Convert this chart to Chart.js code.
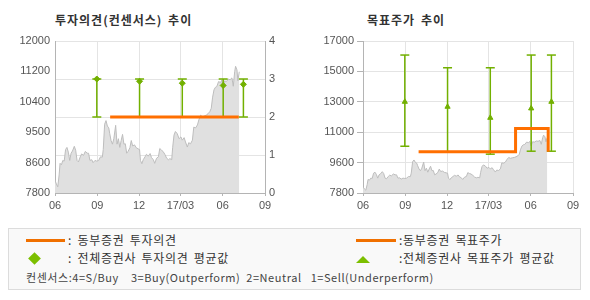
<!DOCTYPE html>
<html>
<head>
<meta charset="utf-8">
<script src="https://cdn.jsdelivr.net/npm/chart.js@4.4.1/dist/chart.umd.min.js"></script>
<style>
  body { margin: 0; background: #fff; width: 590px; height: 300px; position: relative; overflow: hidden;
         font-family: 'Noto Sans CJK KR', sans-serif; }
  canvas { position: absolute; top: 0; }
  .title { position: absolute; top: 11px; font-size: 12px; font-weight: bold; color: #333;
           line-height: 18px; white-space: nowrap; letter-spacing: 1px; word-spacing: 2px; }
  #legend { position: absolute; left: 8px; top: 228px; width: 571px; height: 60px;
            border: 1px solid #dcdcdc; background: #f9f9f9; }
  .lg { position: absolute; font-size: 12px; color: #333; white-space: pre; line-height: 16px;
        letter-spacing: 0.7px; word-spacing: 2px; }
  .small { font-size: 11px; letter-spacing: 0.55px; word-spacing: 0; color: #444; }
  .ln { position: absolute; height: 3px; background: #f07000; }
  .dia { position: absolute; width: 9px; height: 9px; background: #7cbf00; transform: rotate(45deg); }
  .tri { position: absolute; width: 0; height: 0; border-left: 7px solid transparent;
         border-right: 7px solid transparent; border-bottom: 7px solid #7cbf00; }
</style>
</head>
<body>
<div class="title" style="left:55px">투자의견(컨센서스) 추이</div>
<div class="title" style="left:367px">목표주가 추이</div>
<canvas id="opinionChart" width="295" height="215" style="left:0"></canvas>
<canvas id="targetChart" width="295" height="215" style="left:295px"></canvas>

<div id="legend">
  <div class="ln" style="left:17px;top:10px;width:39px"></div>
  <div class="lg" style="left:59px;top:3px">: 동부증권 투자의견</div>
  <div class="dia" style="left:21px;top:25px"></div>
  <div class="lg" style="left:59px;top:21px">: 전체증권사 투자의견 평균값</div>
  <div class="lg small" style="left:17px;top:40px">컨센서스:4=S/Buy    3=Buy(Outperform)  2=Neutral   1=Sell(Underperform)</div>
  <div class="ln" style="left:347px;top:10px;width:40px"></div>
  <div class="lg" style="left:390px;top:3px">:동부증권 목표주가</div>
  <div class="tri" style="left:347px;top:27px"></div>
  <div class="lg" style="left:390px;top:21px">:전체증권사 목표주가 평균값</div>
</div>

<script>
// Days counted from 2016-06-01
const monthTickDays = [0, 92, 183, 273, 365, 457];
const monthTickLabels = ['06', '09', '12', '17/03', '06', '09'];

// Share price (won)
const priceDays = [0,3,6,9,11,14,17,20,23,26,29,32,35,38,42,45,48,51,55,58,62,66,70,73,76,80,83,87,91,95,
  99,103,105,108,111,114,117,119,122,125,128,132,135,138,141,144,147,150,153,156,159,163,166,169,173,177,181,184,186,189,
  192,196,199,203,207,210,214,217,221,225,228,232,235,239,243,247,250,254,256,259,262,266,270,274,277,281,284,288,291,295,
  299,302,306,310,313,317,321,325,329,333,337,340,343,346,349,352,356,360,363,366,369,373,377,381,385,388,391,393,396,398,401];
const priceValues = [8150,8050,7970,8300,8620,8580,8700,8680,9000,9060,8930,8700,8900,8960,9090,8980,8700,8660,8800,8880,
  8840,8950,8900,8900,8700,8720,8640,8700,8680,8700,8800,8790,9000,9700,9800,9650,9600,9450,9250,9150,
  9300,9670,9150,9300,9060,9250,9420,9150,9160,8900,8950,9050,9250,9100,9130,9050,9020,9000,8700,8610,
  8720,8800,8870,8820,8890,8780,8720,8620,8760,8800,9030,8980,8950,8870,8760,8720,8750,8720,9050,9400,
  9500,9440,9300,9350,9260,9330,9210,9070,9190,9160,9260,9620,9600,9680,9820,9950,9900,9930,9950,9990,
  10050,10140,10450,10650,10720,10740,10880,10850,10920,10650,10900,10880,10950,10930,10980,10750,11150,11300,11200,10900,11150];

// Consensus survey dates
const consensusDays = [91, 184, 277, 366, 410];
// Opinion consensus (4=S/Buy ... 1=Sell)
const opinionMin = [2, 2, 2, 2, 2];
const opinionMax = [3, 3, 3, 3, 3];
const opinionAvg = [3.0, 2.94, 2.89, 2.83, 2.86];
// Target price consensus (won)
const targetMin = [10630, 10290, 10150, 10330, 10330];
const targetMax = [16150, 15380, 15380, 16150, 16150];
const targetAvg = [13320, 13020, 12350, 12920, 13320];

// Dongbu Securities' own opinion and target price
const dongbuOpinionDays = [120, 400];
const dongbuOpinion = [2, 2];
const dongbuTargetDays = [121, 332, 403, 403];
const dongbuTarget = [10300, 11700, 11700, 10300];

// Price axis labels
const priceAxisLabels1 = ['7800', '8600', '9500', '10400', '11200', '12000'];
const priceAxisLabels2 = ['7800', '9600', '11000', '13000', '15000', '17000'];

const ORANGE = '#ff6f00';
const GREEN = '#72b000';
const GRID = '#e4e4e4';
const AXIS = '#b4b4b4';
const TICK_FONT = { family: "'Liberation Sans', Arial, sans-serif", size: 11 };

const points = (xs, ys) => xs.map((x, i) => ({ x, y: ys[i] }));
const rangeBars = (xs, lo, hi) => {
  const out = [];
  xs.forEach((x, i) => { out.push({ x, y: lo[i] }, { x, y: hi[i] }, { x, y: null }); });
  return out;
};

function evenTicks(labels) {
  return scale => {
    const n = labels.length;
    scale.ticks = labels.map((_, i) => ({ value: scale.min + i * (scale.max - scale.min) / (n - 1) }));
  };
}

const xAxis = {
  type: 'linear', min: 0, max: 457,
  afterBuildTicks: s => { s.ticks = monthTickDays.map(v => ({ value: v })); },
  afterFit: s => { s.height = 22; },
  grid: { color: GRID, tickColor: AXIS, tickLength: 3 },
  border: { color: AXIS },
  ticks: { autoSkip: false, maxRotation: 0, padding: 3, color: '#555', font: TICK_FONT,
           callback: (v, i) => monthTickLabels[i] }
};

const priceDataset = {
  data: points(priceDays, priceValues), yAxisID: 'y',
  borderColor: '#bdbdbd', borderWidth: 1, backgroundColor: '#e0e0e0', fill: 'start',
  pointRadius: 0, tension: 0, order: 3
};

Chart.defaults.animation = false;
Chart.defaults.plugins.legend.display = false;
Chart.defaults.plugins.tooltip.enabled = false;

new Chart(document.getElementById('opinionChart'), {
  type: 'line',
  data: {
    datasets: [
      priceDataset,
      { data: rangeBars(consensusDays, opinionMin, opinionMax), yAxisID: 'y1',
        borderColor: GREEN, borderWidth: 1.5, pointStyle: 'line', pointRadius: 4.5,
        pointBorderColor: GREEN, pointBorderWidth: 1.5, spanGaps: false, order: 2 },
      { data: points(consensusDays, opinionAvg), yAxisID: 'y1', showLine: false,
        pointStyle: 'rectRot', pointRadius: 3, pointBackgroundColor: GREEN, pointBorderColor: GREEN, order: 1 },
      { data: points(dongbuOpinionDays, dongbuOpinion), yAxisID: 'y1',
        borderColor: ORANGE, borderWidth: 3, pointRadius: 0, order: 0 }
    ]
  },
  options: {
    responsive: false, devicePixelRatio: 1,
    layout: { padding: { top: 41, left: 0, right: 0, bottom: 0 } },
    scales: {
      x: xAxis,
      y: {
        position: 'left', min: 7800, max: 12000,
        afterBuildTicks: evenTicks(priceAxisLabels1),
        afterFit: s => { s.width = 55; },
        grid: { drawOnChartArea: false, drawTicks: false },
        border: { color: AXIS },
        ticks: { padding: 5, color: '#555', font: TICK_FONT, callback: (v, i) => priceAxisLabels1[i] }
      },
      y1: {
        position: 'right', min: 0, max: 4,
        afterFit: s => { s.width = 30; },
        grid: { color: GRID, drawTicks: false },
        border: { color: AXIS },
        ticks: { stepSize: 1, padding: 4, color: '#555', font: TICK_FONT }
      }
    }
  }
});

new Chart(document.getElementById('targetChart'), {
  type: 'line',
  data: {
    datasets: [
      priceDataset,
      { data: rangeBars(consensusDays, targetMin, targetMax), yAxisID: 'y',
        borderColor: GREEN, borderWidth: 1.5, pointStyle: 'line', pointRadius: 4.5,
        pointBorderColor: GREEN, pointBorderWidth: 1.5, spanGaps: false, order: 2 },
      { data: points(consensusDays, targetAvg), yAxisID: 'y', showLine: false,
        pointStyle: 'triangle', pointRadius: 3, pointBackgroundColor: GREEN, pointBorderColor: GREEN, order: 1 },
      { data: points(dongbuTargetDays, dongbuTarget), yAxisID: 'y', stepped: 'before',
        borderColor: ORANGE, borderWidth: 3, pointRadius: 0, order: 0 }
    ]
  },
  options: {
    responsive: false, devicePixelRatio: 1,
    layout: { padding: { top: 41, left: 0, right: 17, bottom: 0 } },
    scales: {
      x: xAxis,
      y: {
        position: 'left', min: 7800, max: 17000,
        afterBuildTicks: evenTicks(priceAxisLabels2),
        afterFit: s => { s.width = 68; },
        grid: { color: GRID, tickColor: AXIS, tickLength: 6 },
        border: { color: AXIS },
        ticks: { padding: 3, color: '#555', font: TICK_FONT, callback: (v, i) => priceAxisLabels2[i] }
      }
    }
  }
});
</script>
</body>
</html>
